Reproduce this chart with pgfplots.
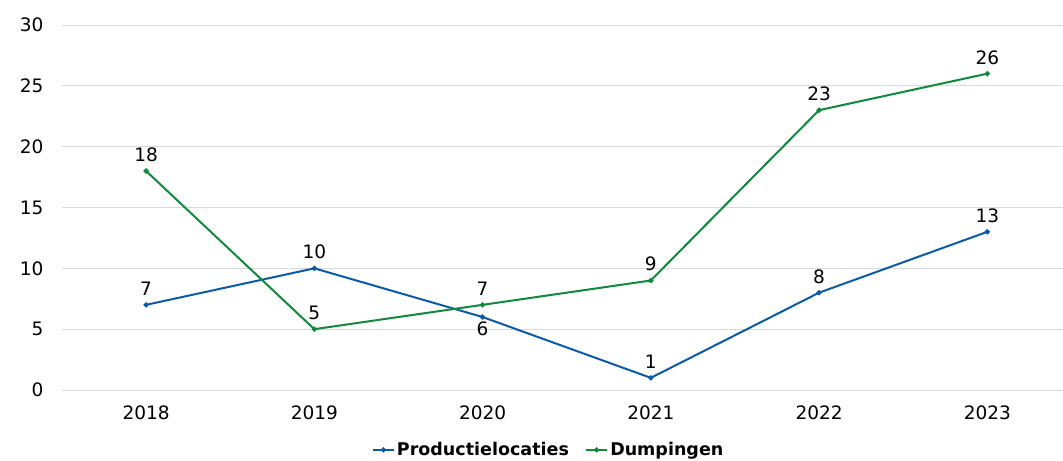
\documentclass[border=0pt]{standalone}
\usepackage{fontspec}
\setmainfont{DejaVu Sans}
\usepackage{pgfplots}
\pgfplotsset{compat=1.18}
\definecolor{cblue}{HTML}{0B5AA6}
\definecolor{cgreen}{HTML}{11893B}
\definecolor{cgrid}{HTML}{D9D9D9}
\begin{document}
\begin{tikzpicture}
\begin{axis}[
  name=ax,
  scale only axis,
  width=1001pt, height=365pt,
  xmin=-0.5, xmax=5.45,
  ymin=0, ymax=30,
  ytick={0,5,...,30},
  xtick={0,1,2,3,4,5},
  xticklabels={2018,2019,2020,2021,2022,2023},
  axis line style={draw=none},
  major tick length=0pt,
  ymajorgrids,
  grid style={color=cgrid, line width=0.8pt},
  /pgf/number format/assume math mode=true,
  ticklabel style={font=\fontsize{18.5}{22}\selectfont},
  yticklabel style={xshift=-15pt},
  xticklabel style={yshift=-12pt},
  legend style={draw=none, at={(0.486,-0.164)}, anchor=center,
    font=\fontsize{17.5}{20}\selectfont\bfseries, legend columns=2,
    /tikz/every even column/.append style={column sep=14pt},
    inner sep=0pt},
  legend image code/.code={
    \draw[#1,mark=none] (0cm,0cm) -- (0.75cm,0cm);
    \path[#1] plot coordinates {(0.375cm,0cm)};
  },
  nodes near coords,
  every node near coord/.append style={font=\fontsize{18.5}{22}\selectfont, black},
]
\addplot[cblue, line width=2pt, mark=*, mark size=1.5pt,
  visualization depends on={value \thisrow{pos} \as \lblpos},
  visualization depends on={\thisrow{dy} \as \lbldy},
  every node near coord/.append style={anchor=\lblpos, yshift=\lbldy pt}]
  table[x=x,y=y] {
  x y pos dy
  0 7 south 5
  1 10 south 5
  2 6 north 0
  3 1 south 5
  4 8 south 5
  5 13 south 5
  };
\addlegendentry{Productielocaties}
\addplot[cgreen, line width=2pt, mark=*, mark size=1.5pt,
  every node near coord/.append style={anchor=south, yshift=5pt}]
  table[x=x,y=y] {
  x y
  0 18
  1 5
  2 7
  3 9
  4 23
  5 26
  };
\addlegendentry{Dumpingen}
\end{axis}
\pgfresetboundingbox
\path ([shift={(-62pt,-70pt)}]ax.south west) rectangle ([shift={(0pt,25pt)}]ax.north east);
\end{tikzpicture}
\end{document}
